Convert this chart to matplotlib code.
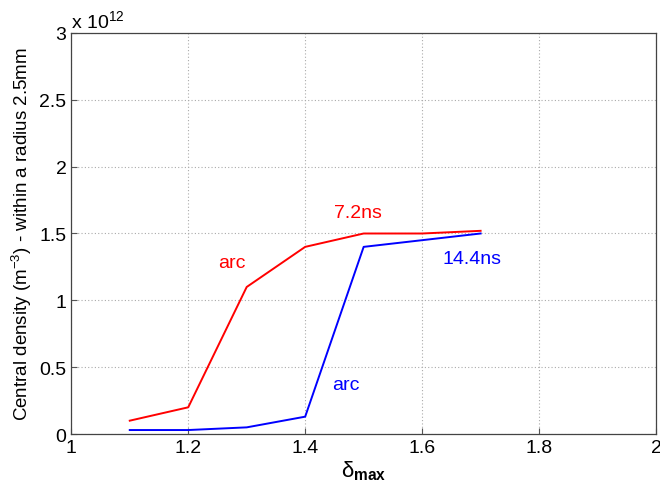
import numpy as np
import matplotlib.pyplot as plt

plt.rcParams['font.family'] = ['Liberation Sans', 'DejaVu Sans']
plt.rcParams['mathtext.fontset'] = 'custom'
plt.rcParams['mathtext.rm'] = 'Liberation Sans'
plt.rcParams['mathtext.it'] = 'Liberation Sans'
plt.rcParams['mathtext.bf'] = 'Liberation Sans:bold'

delta = [1.1, 1.2, 1.3, 1.4, 1.5, 1.6, 1.7]
dens_72 = [0.10, 0.20, 1.10, 1.40, 1.50, 1.50, 1.52]
dens_144 = [0.03, 0.03, 0.05, 0.13, 1.40, 1.45, 1.50]

fig = plt.figure(figsize=(6.6, 4.85), dpi=100)
ax = fig.add_axes([0.108, 0.103, 0.886, 0.827])

ax.plot(delta, dens_72, color="red", lw=1.4)
ax.plot(delta, dens_144, color="blue", lw=1.4)

ax.text(1.49, 1.66, "7.2ns", color="red", fontsize=14, ha="center", va="center")
ax.text(1.275, 1.28, "arc", color="red", fontsize=14, ha="center", va="center")
ax.text(1.685, 1.31, "14.4ns", color="blue", fontsize=14, ha="center", va="center")
ax.text(1.47, 0.37, "arc", color="blue", fontsize=14, ha="center", va="center")

ax.set_xlim(1, 2)
ax.set_ylim(0, 3)
ax.set_xticks(np.arange(1, 2.01, 0.2))
ax.set_xticklabels(["1", "1.2", "1.4", "1.6", "1.8", "2"])
ax.set_yticks(np.arange(0, 3.01, 0.5))
ax.set_yticklabels(["0", "0.5", "1", "1.5", "2", "2.5", "3"])
ax.tick_params(labelsize=14, direction="in", length=4, width=0.8, color="#555555")
ax.grid(True, linestyle=(0, (1, 2)), color="#aaaaaa", lw=0.8)
for s in ax.spines.values():
    s.set_linewidth(0.9)
    s.set_color("#444444")

ax.text(0.0, 1.005, r"x 10$^{12}$", transform=ax.transAxes, fontsize=14,
        ha="left", va="bottom")
ax.set_xlabel(r"$\delta_{\mathbf{max}}$", fontsize=16, labelpad=2)
ax.set_ylabel(r"Central density (m$^{-3}$) - within a radius 2.5mm", fontsize=13.5, labelpad=4)

fig.savefig("out.png", dpi=100)
